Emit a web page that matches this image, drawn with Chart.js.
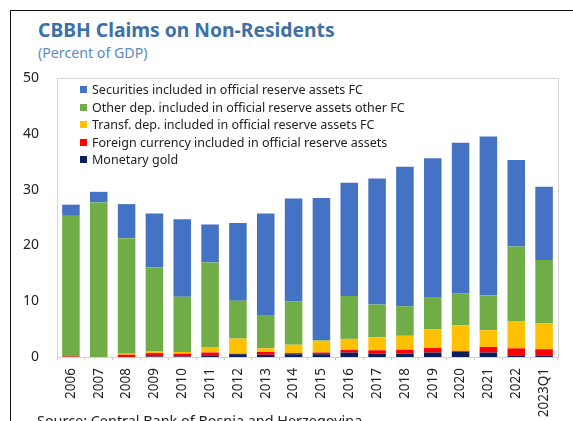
<!DOCTYPE html>
<html>
<head>
<meta charset="utf-8">
<script src="https://cdn.jsdelivr.net/npm/chart.js@4"></script>
<style>
  body { margin: 0; background: #fff; }
  #wrap { position: relative; width: 573px; height: 421px; overflow: hidden; font-family: "Noto Sans", sans-serif; }
  #frame { position: absolute; left: 10px; top: 10px; width: 600px; height: 450px; border-top: 1.5px solid #111; border-left: 1.5px solid #111; }
  #title { position: absolute; left: 38px; top: 16px; font-size: 19.3px; font-weight: bold; color: #3d70a6; white-space: nowrap; }
  #subtitle { position: absolute; left: 38px; top: 43px; font-size: 14.2px; color: #5b8ac0; white-space: nowrap; }
  #source { position: absolute; left: 37px; top: 411px; font-size: 14.4px; color: #222; white-space: nowrap; }
  #legend { position: absolute; left: 80px; top: 81px; font-size: 12.5px; color: #222; }
  #legend div { height: 17.5px; line-height: 17.5px; white-space: nowrap; }
  #legend span { display: inline-block; width: 7px; height: 7px; margin-right: 5px; vertical-align: 1px; }
  canvas { position: absolute; left: 0; top: 0; }
</style>
</head>
<body>
<div id="wrap">
  <div id="frame"></div>
  <div id="title">CBBH Claims on Non-Residents</div>
  <div id="subtitle">(Percent of GDP)</div>
  <canvas id="chart" width="573" height="421"></canvas>
  <div id="legend"></div>
  <div id="source">Source: Central Bank of Bosnia and Herzegovina</div>
</div>
<script>
const years = ['2006', '2007', '2008', '2009', '2010', '2011', '2012', '2013', '2014',
  '2015', '2016', '2017', '2018', '2019', '2020', '2021', '2022', '2023Q1'];

// stacked from the bottom up
const monetaryGold    = [0, 0, 0, 0.1, 0.1, 0.3, 0.5, 0.4, 0.5, 0.5, 0.8, 0.6, 0.6, 0.8, 1.0, 0.8, 0.2, 0.2];
const foreignCurrency = [0.1, 0, 0.4, 0.6, 0.5, 0.5, 0.1, 0.5, 0.2, 0.3, 0.45, 0.6, 0.7, 0.8, 0.1, 1.0, 1.35, 1.2];
const transfDeposits  = [0, 0, 0.2, 0.3, 0.3, 1.0, 2.7, 0.65, 1.5, 2.1, 2.0, 2.3, 2.5, 3.4, 4.6, 3.0, 4.9, 4.6];
const otherDeposits   = [25.2, 27.7, 20.7, 15.1, 9.9, 15.15, 6.8, 5.85, 7.8, 0.1, 7.7, 5.9, 5.3, 5.6, 5.7, 6.2, 13.35, 11.4];
const securities      = [2.0, 1.9, 6.1, 9.6, 13.9, 6.8, 13.9, 18.3, 18.4, 25.5, 20.3, 22.6, 25.0, 25.0, 27.0, 28.5, 15.5, 13.1];

const yTicks = [0, 10, 20, 30, 40, 50];

const series = [
  { label: 'Monetary gold', data: monetaryGold, color: '#0b1f5c' },
  { label: 'Foreign currency included in official reserve assets', data: foreignCurrency, color: '#ff0000' },
  { label: 'Transf. dep. included in official reserve assets FC', data: transfDeposits, color: '#ffc000' },
  { label: 'Other dep. included in official reserve assets other FC', data: otherDeposits, color: '#70ad47' },
  { label: 'Securities included in official reserve assets FC', data: securities, color: '#4472c4' },
];

// light grey box round the plot area
const plotBox = {
  id: 'plotBox',
  afterDraw(chart) {
    const { ctx, chartArea: a } = chart;
    ctx.save();
    ctx.strokeStyle = '#d4d4d4';
    ctx.lineWidth = 1;
    ctx.strokeRect(a.left + 0.5, a.top + 0.5, a.right - a.left, a.bottom - a.top);
    ctx.restore();
  }
};

const chart = new Chart(document.getElementById('chart'), {
  type: 'bar',
  data: {
    labels: years,
    datasets: series.map(s => ({
      label: s.label,
      data: s.data,
      backgroundColor: s.color,
      borderWidth: 0,
      categoryPercentage: 0.63,
      barPercentage: 1,
    })),
  },
  options: {
    responsive: false,
    animation: false,
    layout: { padding: { left: 10, top: 78, right: 15, bottom: 0 } },
    plugins: { legend: { display: false }, tooltip: { enabled: false } },
    scales: {
      x: {
        stacked: true,
        grid: { drawOnChartArea: false, offset: true, tickLength: 3, color: '#c8c8c8' },
        border: { display: false },
        ticks: {
          minRotation: 90, maxRotation: 90, padding: 8,
          color: '#222', font: { family: 'Noto Sans', size: 13.5 },
        },
        afterFit: s => { s.height = 64; },
      },
      y: {
        stacked: true,
        min: 0, max: 50,
        afterBuildTicks: s => { s.ticks = yTicks.map(v => ({ value: v })); },
        grid: { display: false, drawTicks: false },
        border: { display: false },
        ticks: { padding: 18, color: '#222', font: { family: 'Noto Sans', size: 14 } },
        afterFit: s => { s.width = 47; },
      },
    },
  },
  plugins: [plotBox],
});

// legend sits inside the plot, top item is the top of the stack
const legend = document.getElementById('legend');
chart.data.datasets.slice().reverse().forEach(ds => {
  const row = document.createElement('div');
  row.innerHTML = '<span style="background:' + ds.backgroundColor + '"></span>' + ds.label;
  legend.appendChild(row);
});
</script>
</body>
</html>
